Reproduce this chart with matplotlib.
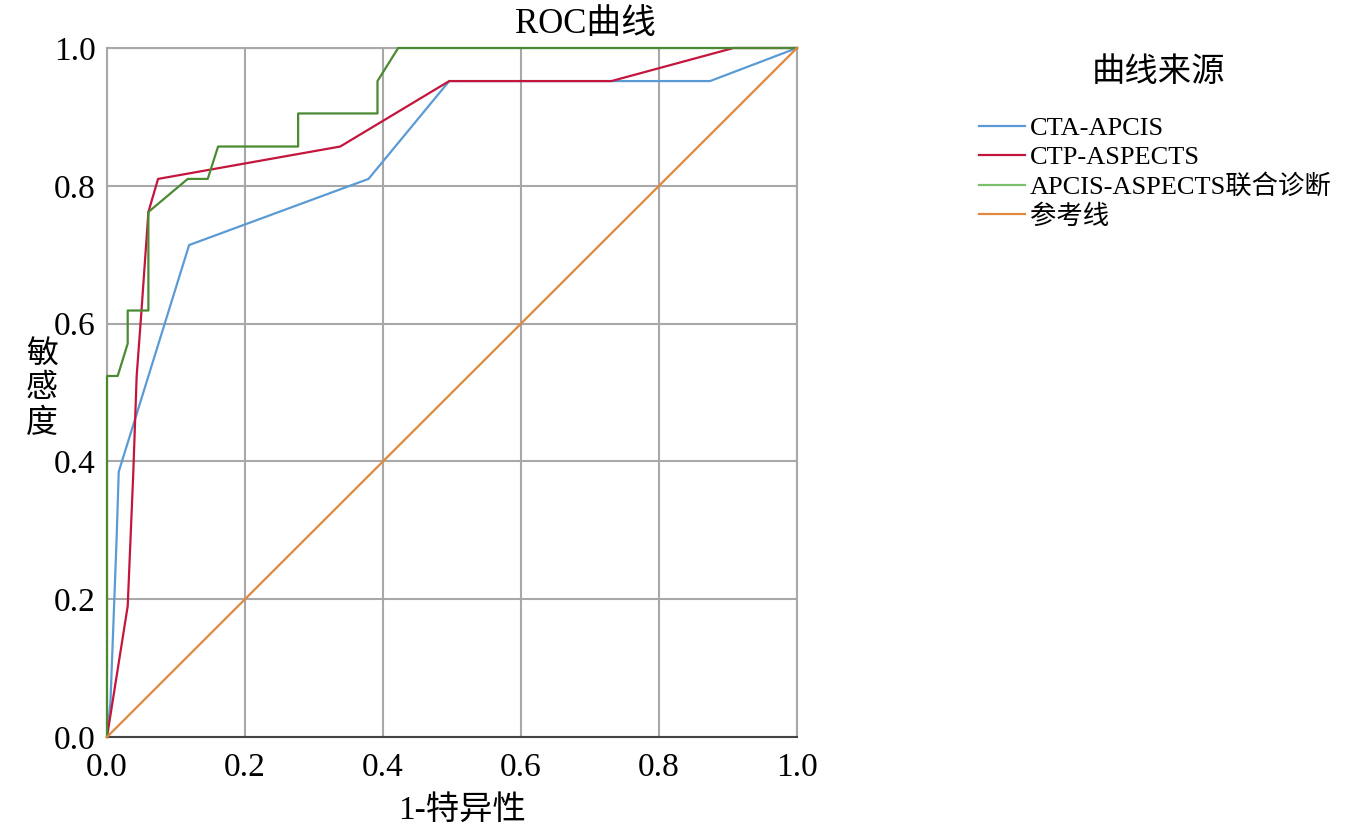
import matplotlib
matplotlib.use("Agg")
import matplotlib.pyplot as plt

plt.rcParams['font.family'] = ['Liberation Serif', 'Noto Sans CJK SC']

# ROC curve points (1-specificity, sensitivity)
cta_fpr = [0.0, 0.005, 0.014, 0.017, 0.119, 0.379, 0.496, 0.874, 1.0]
cta_tpr = [0.0, 0.05, 0.29, 0.385, 0.714, 0.810, 0.952, 0.952, 1.0]

ctp_fpr = [0.0, 0.030, 0.038, 0.043, 0.050, 0.060, 0.074, 0.338, 0.496, 0.731, 0.908, 1.0]
ctp_tpr = [0.0, 0.190, 0.381, 0.524, 0.619, 0.762, 0.810, 0.857, 0.952, 0.952, 1.0, 1.0]

comb_fpr = [0.0, 0.0, 0.0155, 0.030, 0.030, 0.060, 0.060, 0.117, 0.146, 0.161, 0.277, 0.277,
            0.392, 0.392, 0.422, 1.0]
comb_tpr = [0.0, 0.524, 0.524, 0.571, 0.619, 0.619, 0.762, 0.810, 0.810, 0.857, 0.857, 0.905,
            0.905, 0.952, 1.0, 1.0]

ref_x = [0.0, 1.0]
ref_y = [0.0, 1.0]

labels = ['CTA-APCIS', 'CTP-ASPECTS', 'APCIS-ASPECTS联合诊断', '参考线']
ticks = [0.0, 0.2, 0.4, 0.6, 0.8, 1.0]

fig = plt.figure(figsize=(13.46, 8.4), dpi=100)
ax = fig.add_axes([107 / 1346, 1 - 737 / 840, 690 / 1346, 689 / 840])

ax.plot(cta_fpr, cta_tpr, color='#5b9bd5', lw=1.6, label=labels[0], zorder=3, clip_on=False)
ax.plot(ctp_fpr, ctp_tpr, color='#c4163c', lw=1.6, label=labels[1], zorder=3, clip_on=False)
ax.plot(comb_fpr, comb_tpr, color='#4a8a32', lw=1.6, label=labels[2], zorder=3, clip_on=False)
ax.plot(ref_x, ref_y, color='#e0883c', lw=1.6, label=labels[3], zorder=3, clip_on=False)

ax.set_xlim(0, 1)
ax.set_ylim(0, 1)
ax.set_xticks(ticks)
ax.set_yticks(ticks)
ax.set_xticklabels([f'{t:.1f}' for t in ticks])
ax.set_yticklabels([f'{t:.1f}' for t in ticks])
ax.tick_params(length=0, labelsize=24)
ax.tick_params(axis='x', pad=11)
ax.tick_params(axis='y', pad=8)
ax.grid(True, color='#a8a8a8', lw=1.5)
ax.set_axisbelow(True)
for side in ['top', 'right', 'left']:
    ax.spines[side].set_color('#a8a8a8')
    ax.spines[side].set_linewidth(1.5)
ax.spines['bottom'].set_color('#444444')
ax.spines['bottom'].set_linewidth(1.5)

fig.text(585 / 1346, 1 - 24 / 840, 'ROC曲线', fontsize=25, ha='center', va='center')
fig.text(462 / 1346, 1 - 810 / 840, '1-特异性', fontsize=24, ha='center', va='center')
fig.text(42 / 1346, 1 - 390 / 840, '敏\n感\n度', fontsize=23, ha='center', va='center',
         linespacing=1.2)

# legend title drawn separately so it sits where the reference has it
fig.text(1158 / 1346, 1 - 73 / 840, '曲线来源', fontsize=24, ha='center', va='center')
handles, _ = ax.get_legend_handles_labels()
leg = fig.legend(handles, labels, loc='upper left', bbox_to_anchor=(968 / 1346, 1 - 106 / 840),
                 frameon=False, fontsize=19, handlelength=1.75, handletextpad=0.2,
                 labelspacing=0.2, borderaxespad=0)
leg.legend_handles[2].set_color('#7cc26e')

fig.savefig('out.png', dpi=100)
